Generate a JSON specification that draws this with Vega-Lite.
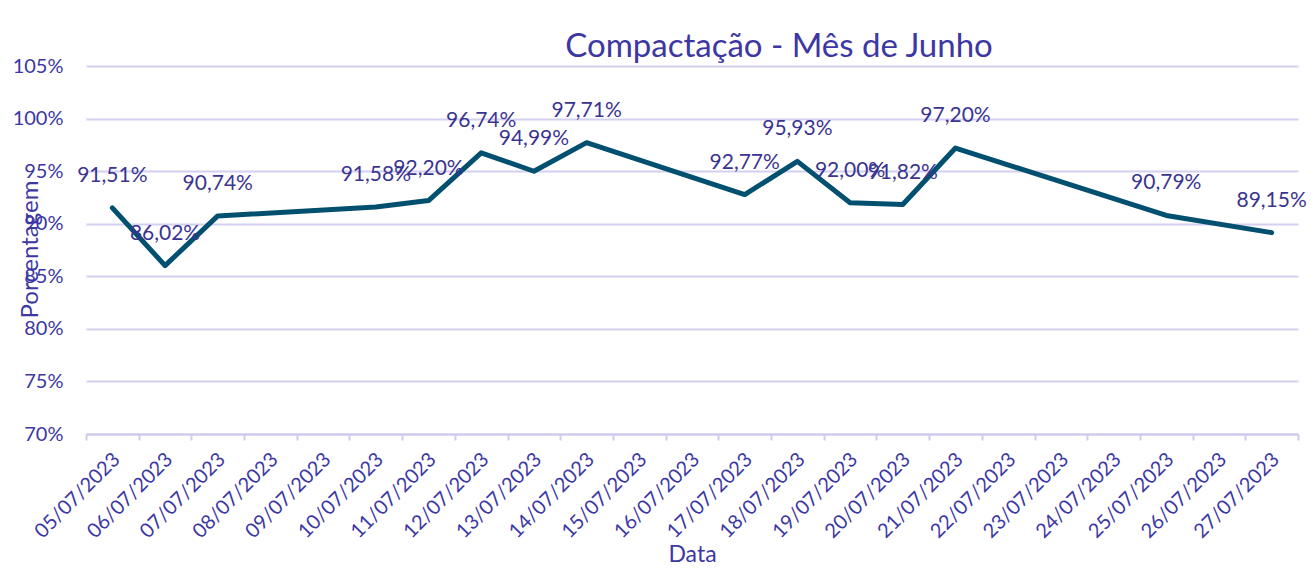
{
  "$schema": "https://vega.github.io/schema/vega-lite/v6.json",
  "width": 1212,
  "height": 368,
  "autosize": {"type": "none"},
  "padding": {"left": 86, "top": 66, "right": 18, "bottom": 140},
  "background": "white",
  "config": {
    "locale": {"number": {"decimal": ",", "thousands": ".", "grouping": [3], "currency": ["", " €"]}},
    "view": {"stroke": null},
    "font": "Lato"
  },
  "title": {
    "text": "Compactação - Mês de Junho",
    "fontSize": 33,
    "fontWeight": "normal",
    "color": "#3d37a3",
    "anchor": "middle",
    "baseline": "alphabetic",
    "offset": 0,
    "dx": 87,
    "dy": 34
  },
  "data": {
    "values": [
      {"Data": "05/07/2023", "Pct": 0.9151},
      {"Data": "06/07/2023", "Pct": 0.8602},
      {"Data": "07/07/2023", "Pct": 0.9074},
      {"Data": "10/07/2023", "Pct": 0.9158},
      {"Data": "11/07/2023", "Pct": 0.9220},
      {"Data": "12/07/2023", "Pct": 0.9674},
      {"Data": "13/07/2023", "Pct": 0.9499},
      {"Data": "14/07/2023", "Pct": 0.9771},
      {"Data": "17/07/2023", "Pct": 0.9277},
      {"Data": "18/07/2023", "Pct": 0.9593},
      {"Data": "19/07/2023", "Pct": 0.9200},
      {"Data": "20/07/2023", "Pct": 0.9182},
      {"Data": "21/07/2023", "Pct": 0.9720},
      {"Data": "25/07/2023", "Pct": 0.9079},
      {"Data": "27/07/2023", "Pct": 0.8915}
    ]
  },
  "encoding": {
    "x": {
      "field": "Data",
      "type": "nominal",
      "bandPosition": 0.5,
      "scale": {
        "type": "band",
        "paddingInner": 0,
        "paddingOuter": 0,
        "domain": ["05/07/2023", "06/07/2023", "07/07/2023", "08/07/2023", "09/07/2023", "10/07/2023", "11/07/2023", "12/07/2023", "13/07/2023", "14/07/2023", "15/07/2023", "16/07/2023", "17/07/2023", "18/07/2023", "19/07/2023", "20/07/2023", "21/07/2023", "22/07/2023", "23/07/2023", "24/07/2023", "25/07/2023", "26/07/2023", "27/07/2023"]
      },
      "axis": {
        "title": "Data",
        "titleFontSize": 23,
        "titleFontWeight": "normal",
        "titleColor": "#3d37a3",
        "titleBaseline": "alphabetic",
        "titleX": 606,
        "titleY": 127,
        "titleAlign": "center",
        "labelAngle": -45,
        "labelAlign": "right",
        "labelBaseline": "middle",
        "labelFontSize": 20,
        "labelColor": "#3d37a3",
        "labelPadding": 16,
        "labelOverlap": false,
        "labelBound": false,
        "labelFlush": false,
        "labelOffset": 4,
        "tickBand": "extent",
        "tickSize": 6,
        "tickColor": "#cfcaee",
        "tickWidth": 2,
        "domainColor": "#cfcaee",
        "domainWidth": 2,
        "grid": false
      }
    },
    "y": {
      "field": "Pct",
      "type": "quantitative",
      "scale": {"domain": [0.70, 1.05], "nice": false, "zero": false},
      "axis": {
        "title": "Porcentagem",
        "titleFontSize": 24,
        "titleFontWeight": "normal",
        "titleColor": "#3d37a3",
        "titleAngle": -90,
        "titleAlign": "center",
        "titleBaseline": "middle",
        "titleX": -56,
        "titleY": 183,
        "values": [0.70, 0.75, 0.80, 0.85, 0.90, 0.95, 1.00, 1.05],
        "format": ".0%",
        "labelFontSize": 20,
        "labelColor": "#3d37a3",
        "labelPadding": 23,
        "ticks": false,
        "domain": false,
        "grid": true,
        "gridColor": "#d4d0f0",
        "gridWidth": 2
      }
    }
  },
  "layer": [
    {
      "mark": {"type": "line", "color": "#02506f", "strokeWidth": 5, "strokeCap": "round", "strokeJoin": "round"}
    },
    {
      "mark": {"type": "text", "dy": -32, "fontSize": 21, "color": "#3a3490", "baseline": "middle"},
      "encoding": {"text": {"field": "Pct", "type": "quantitative", "format": ".2%"}}
    }
  ]
}
